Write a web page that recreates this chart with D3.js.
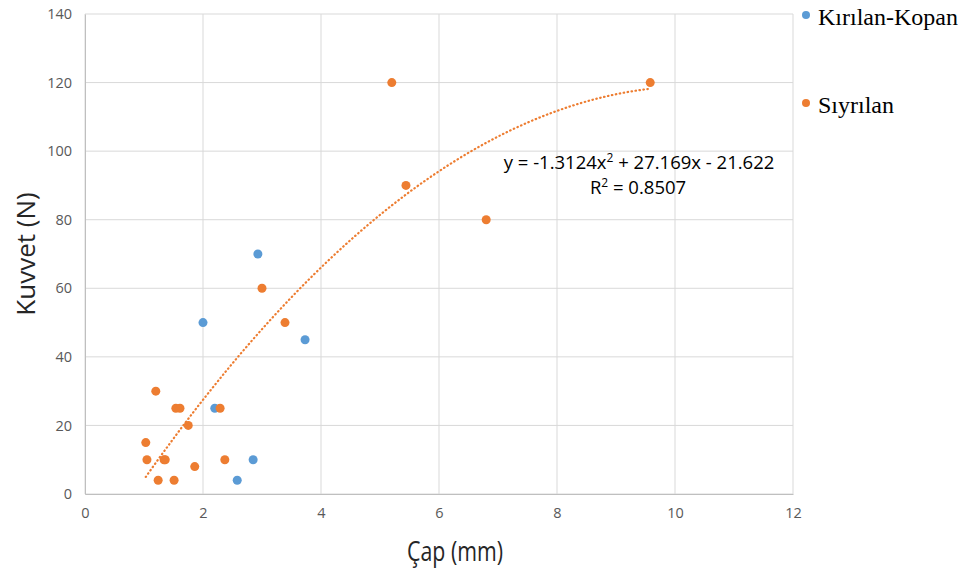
<!DOCTYPE html>
<html>
<head>
<meta charset="utf-8">
<script src="https://cdn.jsdelivr.net/npm/d3@7"></script>
<style>
  body { margin: 0; background: #fff; }
  .tick text { font-family: "Open Sans", "Liberation Sans", sans-serif; font-size: 14.5px; fill: #595959; }
</style>
</head>
<body>
<script>
// Data
var kirilanX = [2.0, 2.93, 3.73, 2.2, 2.85, 2.58];
var kirilanY = [50, 70, 45, 25, 10, 4];
var siyrilanX = [5.2, 9.58, 5.44, 6.8, 3.0, 3.39, 1.2, 1.54, 1.61, 2.29, 1.75, 1.03, 1.05, 1.34, 1.36, 2.37, 1.86, 1.24, 1.51];
var siyrilanY = [120, 120, 90, 80, 60, 50, 30, 25, 25, 25, 20, 15, 10, 10, 10, 10, 8, 4, 4];
var xTicks = [0, 2, 4, 6, 8, 10, 12];
var yTicks = [0, 20, 40, 60, 80, 100, 120, 140];
var coef = [-1.3124, 27.169, -21.622]; // trendline y = a x^2 + b x + c
var seriesNames = ['Kırılan-Kopan', 'Sıyrılan'];
var colors = ['#5B9BD5', '#ED7D31'];

var margin = {top: 14, right: 174, bottom: 78, left: 85};
var width = 967 - margin.left - margin.right;
var height = 572 - margin.top - margin.bottom;

var root = d3.select('body').append('svg')
  .attr('width', 967)
  .attr('height', 572);
var svg = root.append('g')
  .attr('transform', 'translate(' + margin.left + ',' + margin.top + ')');

var xScale = d3.scaleLinear().domain([0, 12]).range([0, width]);
var yScale = d3.scaleLinear().domain([0, 140]).range([height, 0]);

// grid
svg.append('g').selectAll('line.v')
  .data(xTicks).enter().append('line')
  .attr('x1', function(d){ return xScale(d); })
  .attr('x2', function(d){ return xScale(d); })
  .attr('y1', 0).attr('y2', height)
  .style('stroke', '#D9D9D9').style('stroke-width', 1);
svg.append('g').selectAll('line.h')
  .data(yTicks).enter().append('line')
  .attr('x1', 0).attr('x2', width)
  .attr('y1', function(d){ return yScale(d); })
  .attr('y2', function(d){ return yScale(d); })
  .style('stroke', '#D9D9D9').style('stroke-width', 1);

// axes
var xAxis = d3.axisBottom(xScale).tickValues(xTicks).tickSize(0).tickPadding(14);
var yAxis = d3.axisLeft(yScale).tickValues(yTicks).tickSize(0).tickPadding(13);
svg.append('g')
  .attr('transform', 'translate(0,' + height + ')')
  .call(xAxis)
  .select('.domain').style('stroke', '#BFBFBF');
svg.append('g')
  .call(yAxis)
  .select('.domain').style('stroke', '#BFBFBF');

// trendline
var x0 = d3.min(siyrilanX), x1 = d3.max(siyrilanX);
var trend = d3.range(0, 101).map(function(i){
  var x = x0 + (x1 - x0) * i / 100;
  return [x, coef[0] * x * x + coef[1] * x + coef[2]];
});
svg.append('path')
  .datum(trend)
  .attr('d', d3.line()
    .x(function(d){ return xScale(d[0]); })
    .y(function(d){ return yScale(d[1]); }))
  .style('fill', 'none')
  .style('stroke', colors[1])
  .style('stroke-width', 2.2)
  .style('stroke-linecap', 'round')
  .style('stroke-dasharray', '0.5,3.5');

// points
function drawSeries(xs, ys, color) {
  svg.append('g').selectAll('circle')
    .data(xs).enter().append('circle')
    .attr('cx', function(d){ return xScale(d); })
    .attr('cy', function(d, i){ return yScale(ys[i]); })
    .attr('r', 4.5)
    .style('fill', color);
}
drawSeries(kirilanX, kirilanY, colors[0]);
drawSeries(siyrilanX, siyrilanY, colors[1]);

// equation
var eqFont = '"Open Sans", "Liberation Sans", sans-serif';
var eq = root.append('text')
  .attr('x', 639)
  .attr('y', 169)
  .attr('text-anchor', 'middle')
  .style('font-family', eqFont)
  .style('font-size', '18.5px')
  .style('fill', '#000');
eq.append('tspan').text('y = -1.3124x');
eq.append('tspan').attr('dy', -7).style('font-size', '12px').text('2');
eq.append('tspan').attr('dy', 7).text(' + 27.169x - 21.622');
var r2 = root.append('text')
  .attr('x', 638)
  .attr('y', 194)
  .attr('text-anchor', 'middle')
  .style('font-family', eqFont)
  .style('font-size', '18.5px')
  .style('fill', '#000');
r2.append('tspan').text('R');
r2.append('tspan').attr('dy', -7).style('font-size', '12px').text('2');
r2.append('tspan').attr('dy', 7).text(' = 0.8507');

// axis titles
root.append('text')
  .attr('x', 455)
  .attr('y', 561)
  .attr('text-anchor', 'middle')
  .attr('textLength', 96)
  .attr('lengthAdjust', 'spacingAndGlyphs')
  .style('font-family', '"Open Sans", "Liberation Sans", sans-serif')
  .style('font-size', '27px')
  .style('fill', '#262626')
  .text('Çap (mm)');
root.append('text')
  .attr('transform', 'translate(35,254) rotate(-90)')
  .attr('text-anchor', 'middle')
  .style('font-family', '"Open Sans", "Liberation Sans", sans-serif')
  .style('font-size', '26px')
  .style('fill', '#262626')
  .text('Kuvvet (N)');

// legend
var legend = root.selectAll('.legend')
  .data(seriesNames).enter().append('g')
  .attr('class', 'legend')
  .attr('transform', function(d, i){ return 'translate(806,' + (15 + i * 88) + ')'; });
legend.append('circle')
  .attr('r', 4)
  .style('fill', function(d, i){ return colors[i]; });
legend.append('text')
  .attr('x', 12)
  .attr('y', 10)
  .style('font-family', '"Liberation Serif", "DejaVu Serif", serif')
  .style('font-size', '24px')
  .style('fill', '#000')
  .text(function(d){ return d; });
</script>
</body>
</html>
